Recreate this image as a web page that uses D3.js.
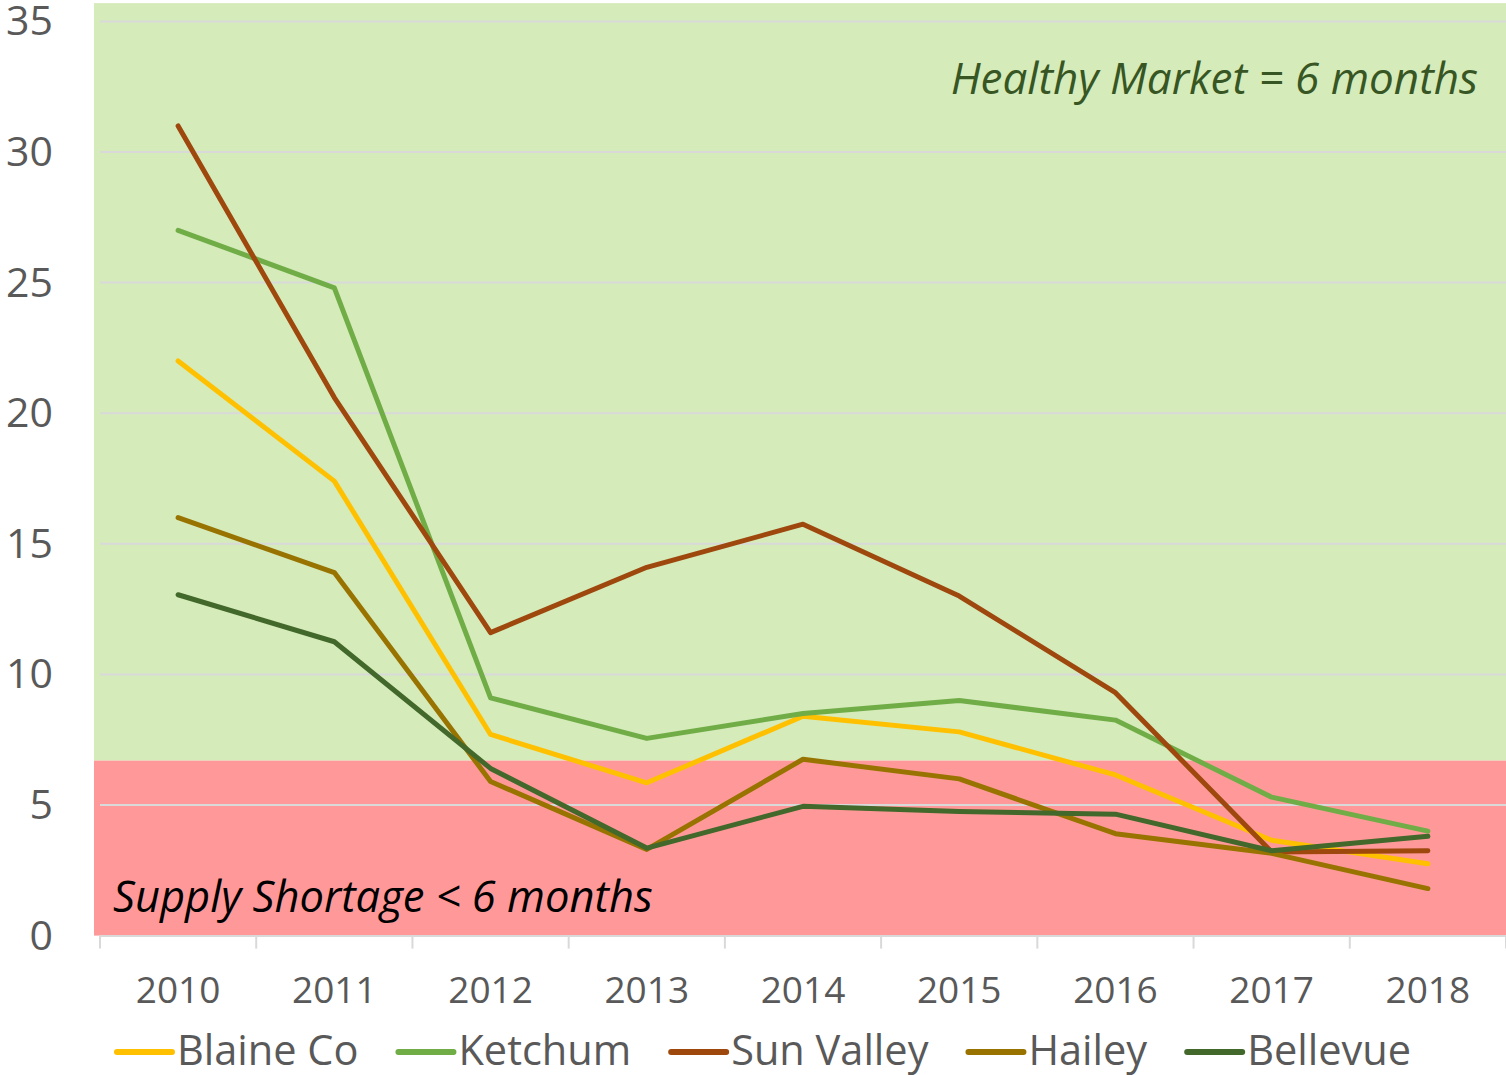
<!DOCTYPE html>
<html>
<head>
<meta charset="utf-8">
<script src="https://cdn.jsdelivr.net/npm/d3@7"></script>
<style>
  body { margin: 0; background: #fff; }
  svg { display: block; }
  text { font-family: "Open Sans", sans-serif; }
</style>
</head>
<body>
<div id="chart"></div>
<script>
const YEARS = ["2010", "2011", "2012", "2013", "2014", "2015", "2016", "2017", "2018"];
const SERIES_NAMES = ["Blaine Co", "Ketchum", "Sun Valley", "Hailey", "Bellevue"];
const BLAINE = [22.0, 17.4, 7.7, 5.85, 8.4, 7.8, 6.15, 3.65, 2.75];
const KETCHUM = [27.0, 24.8, 9.1, 7.55, 8.5, 9.0, 8.25, 5.3, 4.0];
const SUN_VALLEY = [31.0, 20.6, 11.6, 14.1, 15.75, 13.0, 9.3, 3.2, 3.25];
const HAILEY = [16.0, 13.9, 5.9, 3.3, 6.75, 6.0, 3.9, 3.15, 1.8];
const BELLEVUE = [13.05, 11.25, 6.4, 3.35, 4.95, 4.75, 4.65, 3.25, 3.8];
const Y_TICKS = [0, 5, 10, 15, 20, 25, 30, 35];
// background zones (value ranges)
const ZONE_LOW = [0, 6.7];
const ZONE_HIGH = [6.7, 35.7];

const COLORS = ["#FFC000", "#70AD47", "#9E480E", "#997300", "#43682B"];
const allValues = [BLAINE, KETCHUM, SUN_VALLEY, HAILEY, BELLEVUE];

const WIDTH = 1506;
const HEIGHT = 1075;

const svg = d3
  .select("#chart")
  .append("svg")
  .attr("width", WIDTH)
  .attr("height", HEIGHT);

const x = d3.scaleBand().domain(YEARS).range([100, 1506]);
const y = d3.scaleLinear().domain([0, 35]).range([935.6, 21.4]);

// zones
svg
  .append("rect")
  .attr("x", 94)
  .attr("width", 1506 - 94)
  .attr("y", y(ZONE_HIGH[1]))
  .attr("height", y(ZONE_HIGH[0]) - y(ZONE_HIGH[1]))
  .attr("fill", "#D5EBBA");

svg
  .append("rect")
  .attr("x", 94)
  .attr("width", 1506 - 94)
  .attr("y", y(ZONE_LOW[1]))
  .attr("height", y(ZONE_LOW[0]) - y(ZONE_LOW[1]))
  .attr("fill", "#FF9999");

// gridlines
svg
  .append("g")
  .selectAll("line")
  .data(Y_TICKS.filter((d) => d > 0))
  .join("line")
  .attr("x1", 100)
  .attr("x2", 1506)
  .attr("y1", (d) => y(d))
  .attr("y2", (d) => y(d))
  .attr("stroke", "#D9D9D9")
  .attr("stroke-width", 2);

// y labels
svg
  .append("g")
  .selectAll("text")
  .data(Y_TICKS)
  .join("text")
  .attr("x", 53)
  .attr("y", (d) => y(d) + 14)
  .attr("text-anchor", "end")
  .attr("font-size", 41)
  .attr("fill", "#595959")
  .text((d) => d);

// x axis
const xAxis = svg
  .append("g")
  .attr("transform", `translate(0, ${y(0)})`)
  .call(d3.axisBottom(x).tickSize(0).tickFormat(""));
xAxis.select(".domain").attr("stroke", "#D9D9D9").attr("stroke-width", 2);

const tickXs = YEARS.map((d) => x(d)).concat([x.range()[1]]);
svg
  .append("g")
  .selectAll("line")
  .data(tickXs)
  .join("line")
  .attr("x1", (d) => d)
  .attr("x2", (d) => d)
  .attr("y1", y(0))
  .attr("y2", y(0) + 13)
  .attr("stroke", "#D9D9D9")
  .attr("stroke-width", 2);

svg
  .append("g")
  .selectAll("text")
  .data(YEARS)
  .join("text")
  .attr("x", (d) => x(d) + x.bandwidth() / 2)
  .attr("y", 1003)
  .attr("text-anchor", "middle")
  .attr("font-size", 37)
  .attr("fill", "#595959")
  .text((d) => d);

// annotations
svg
  .append("text")
  .attr("x", 1478)
  .attr("y", 94)
  .attr("text-anchor", "end")
  .attr("font-size", 44)
  .attr("font-style", "italic")
  .attr("fill", "#375623")
  .text("Healthy Market = 6 months");

svg
  .append("text")
  .attr("x", 113)
  .attr("y", 912)
  .attr("font-size", 43.5)
  .attr("font-style", "italic")
  .attr("fill", "#000")
  .text("Supply Shortage < 6 months");

// lines
const line = d3
  .line()
  .x((d, i) => x(YEARS[i]) + x.bandwidth() / 2)
  .y((d) => y(d));

allValues.forEach((vals, i) => {
  svg
    .append("path")
    .attr("d", line(vals))
    .attr("fill", "none")
    .attr("stroke", COLORS[i])
    .attr("stroke-width", 5)
    .attr("stroke-linejoin", "round")
    .attr("stroke-linecap", "round");
});

// legend
const legend = svg.append("g");
let cursor = 0;
SERIES_NAMES.forEach((name, i) => {
  const item = legend.append("g").attr("transform", `translate(${cursor}, 0)`);
  item
    .append("line")
    .attr("x1", 0)
    .attr("x2", 55)
    .attr("y1", 1052)
    .attr("y2", 1052)
    .attr("stroke", COLORS[i])
    .attr("stroke-width", 6)
    .attr("stroke-linecap", "round");
  const t = item
    .append("text")
    .attr("x", 60)
    .attr("y", 1065)
    .attr("font-size", 41.5)
    .attr("fill", "#595959")
    .text(name);
  cursor += 60 + t.node().getComputedTextLength() + 40;
});
const legendWidth = cursor - 40;
legend.attr("transform", `translate(${764 - legendWidth / 2}, 0)`);
</script>
</body>
</html>
